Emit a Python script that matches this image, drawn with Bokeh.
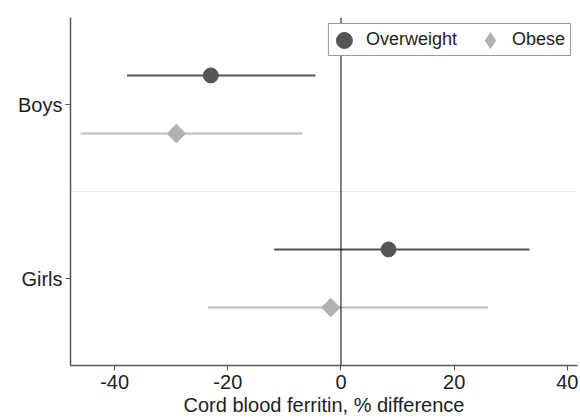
from bokeh.plotting import figure
from bokeh.models import (Range1d, FactorRange, Span, Legend, LegendItem,
                          ColumnDataSource, FixedTicker)
from bokeh.transform import dodge
from bokeh.embed import file_html
from bokeh.resources import INLINE

# ---- data ----
groups = ["Boys", "Girls"]
series = ["Overweight", "Obese"]
overweight_est = [-23.0, 8.4]
overweight_lo = [-37.8, -11.8]
overweight_hi = [-4.5, 33.3]
obese_est = [-29.1, -1.8]
obese_lo = [-46.0, -23.5]
obese_hi = [-6.8, 26.0]
x_ticks = [-40, -20, 0, 20, 40]
x_label = "Cord blood ferritin, % difference"

FONT = "Liberation Sans"
TXT = "#1e1e1e"
DARK = "#555555"
LIGHT = "#b1b1b1"
LIGHT_LINE = "#bdbdbd"

p = figure(width=580, height=418, output_backend="svg", toolbar_location=None,
           x_range=Range1d(-47.8, 41.8),
           y_range=FactorRange(factors=groups[::-1], range_padding=0),
           min_border_left=70, min_border_top=17, min_border_right=3,
           min_border_bottom=40)
p.outline_line_color = None
p.xgrid.visible = False
p.ygrid.visible = False
p.background_fill_color = "white"
p.border_fill_color = "white"

ow = ColumnDataSource(dict(group=groups, est=overweight_est, lo=overweight_lo, hi=overweight_hi))
ob = ColumnDataSource(dict(group=groups, est=obese_est, lo=obese_lo, hi=obese_hi))

y_ow = dodge("group", 0.167, range=p.y_range)
y_ob = dodge("group", -0.167, range=p.y_range)

# separator between groups
p.add_layout(Span(location=1, dimension="width", line_color="#ebebeb",
                  line_width=1, level="underlay"))

p.segment(x0="lo", y0=y_ow, x1="hi", y1=y_ow, source=ow, line_color=DARK, line_width=2)
p.segment(x0="lo", y0=y_ob, x1="hi", y1=y_ob, source=ob, line_color=LIGHT_LINE, line_width=2)

# zero reference line
p.add_layout(Span(location=0, dimension="height", line_color="black", line_width=1))

ow_pts = p.ellipse(x="est", y=y_ow, width=15, height=15, width_units="screen",
                   height_units="screen", fill_color=DARK, line_color=DARK, source=ow)
ob_pts = p.scatter(x="est", y=y_ob, marker="square", size=13, angle=0.785398,
                   fill_color=LIGHT, line_color=LIGHT, source=ob)
# legend swatch for the diamond (not drawn in the plot area)
ob_key = p.scatter(x="est", y=y_ob, marker="diamond", size=13,
                   fill_color=LIGHT, line_color=LIGHT, line_width=5, line_join="miter",
                   source=ob, visible=False)

# axes
p.xaxis.ticker = FixedTicker(ticks=x_ticks)
p.xaxis.major_label_overrides = {t: str(t) for t in x_ticks}
p.xaxis.axis_label = x_label
for ax in (p.xaxis[0], p.yaxis[0]):
    ax.axis_line_color = DARK
    ax.axis_line_width = 1.5
    ax.major_tick_line_color = DARK
    ax.major_tick_line_width = 1
    ax.major_tick_out = 5
    ax.major_tick_in = 0
    ax.minor_tick_line_color = None
    ax.major_label_text_font = FONT
    ax.major_label_text_font_size = "20px"
    ax.major_label_text_color = TXT
p.yaxis.major_label_standoff = 3
p.xaxis.major_label_standoff = 4
p.xaxis.axis_label_standoff = 2
p.xaxis.axis_label_text_font = FONT
p.xaxis.axis_label_text_font_size = "20px"
p.xaxis.axis_label_text_font_style = "normal"
p.xaxis.axis_label_text_color = TXT

legend = Legend(items=[LegendItem(label=series[0], renderers=[ow_pts]),
                       LegendItem(label=series[1], renderers=[ob_key])],
                location="top_right", orientation="horizontal",
                margin=6, padding=5, spacing=23, glyph_width=20, glyph_height=20,
                label_standoff=12, label_text_font=FONT, label_text_font_size="18px",
                label_text_color=TXT, border_line_color="#333333", border_line_width=1.2,
                background_fill_color="white", background_fill_alpha=1.0)
p.add_layout(legend)

open("out.html", "w").write(file_html(p, INLINE))
